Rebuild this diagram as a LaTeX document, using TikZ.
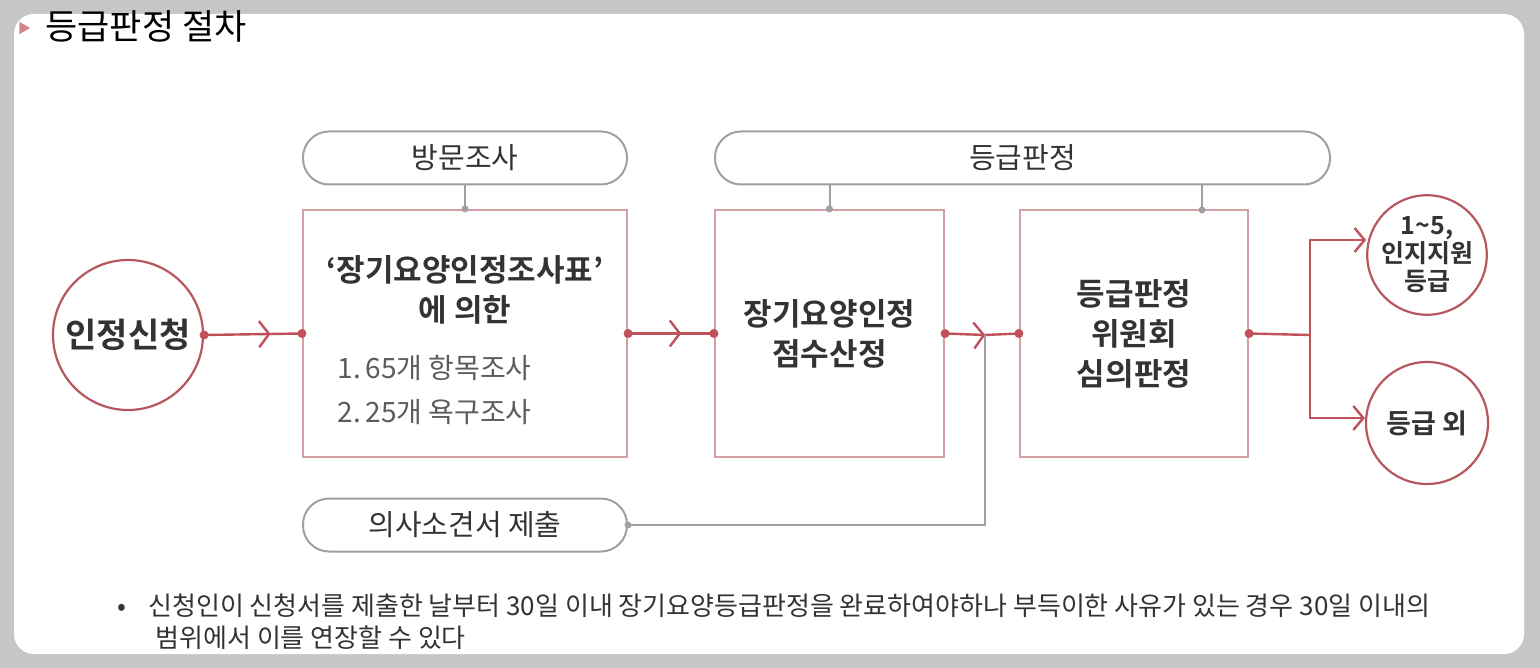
\documentclass[tikz,border=0pt]{standalone}
\usepackage{fontspec}
\setmainfont{Noto Sans CJK KR}[BoldFont={Noto Sans CJK KR Bold}]
\usetikzlibrary{arrows.meta,decorations.markings,shapes.geometric}
\definecolor{rd}{HTML}{C0505A}
\definecolor{rdl}{HTML}{D4A0A6}
\definecolor{gy}{HTML}{A0A0A0}
\definecolor{tx}{HTML}{333333}
\tikzset{
  conn/.style={rd,line width=2.4pt},
  chev/.style={postaction={decorate},decoration={markings,mark=at position #1 with {\arrow[rd,line width=2.4pt]{Straight Barb[length=10pt,width=26pt]}}}},
  boxn/.style={draw=rdl,line width=2.2pt,fill=white,minimum width=#1,minimum height=247pt,inner sep=0pt,align=center,text=tx,font=\fontsize{31}{40}\selectfont\bfseries},
  pill/.style={draw=gy,line width=2pt,rounded corners=26pt,minimum width=#1,minimum height=53pt,inner sep=0pt,text=tx,font=\fontsize{29}{32}\selectfont},
  circ/.style={circle,draw=rd!85!gray,line width=2.2pt,minimum size=#1,inner sep=0pt,align=center,text=tx},
  dot/.style={circle,fill=rd,inner sep=0pt,minimum size=9pt},
  gdot/.style={circle,fill=gy,inner sep=0pt,minimum size=7pt},
}
\begin{document}
\begin{tikzpicture}[x=1pt,y=-1pt]
\useasboundingbox (0,0) rectangle (1540,668);
\fill[gray!45] (0,0) rectangle (1540,668);
\fill[white,rounded corners=20pt] (14,14) rectangle (1524,654);
\node[fill=rd!70,regular polygon,regular polygon sides=3,shape border rotate=-90,inner sep=2.5pt] (mk) at (23,28) {};
\node[anchor=west,font=\fontsize{35}{40}\selectfont] (title) at (42,26) {등급판정 절차};

\node[circ=150pt,font=\fontsize{34}{40}\selectfont\bfseries] (c0) at (128,335) {인정신청};
\node[boxn=324pt] (b1) at (465,333.5) {};
\node[align=center,text=tx,font=\fontsize{31}{40}\selectfont\bfseries] (b1t) at (465,290) {‘장기요양인정조사표’\\에 의한};
\node[anchor=west,text=tx!80,font=\fontsize{28}{44}\selectfont,align=left] (b1s) at (334,390) {1.\,65개 항목조사\\2.\,25개 욕구조사};
\node[boxn=229pt] (b2) at (829.5,333.5) {장기요양인정\\점수산정};
\node[boxn=228pt] (b3) at (1134,333.5) {등급판정\\위원회\\심의판정};
\node[pill=324pt] (p1) at (465,158) {방문조사};
\node[pill=615pt] (p2) at (1022.5,158) {등급판정};
\node[pill=324pt] (p3) at (465,525) {의사소견서 제출};
\node[circ=116pt,font=\fontsize{25}{28}\selectfont\bfseries] (o1) at (1427,255) {1\textasciitilde5,\\인지지원\\등급};
\node[circ=122pt,font=\fontsize{27}{30}\selectfont\bfseries] (o2) at (1427,423) {등급 외};

% top connectors
\draw[gy,line width=2pt] (p1.south) -- (b1.north) node[gdot]{};
\draw[gy,line width=2pt] (p2.south -| b2.north) -- (b2.north) node[gdot]{};
\draw[gy,line width=2pt] (p2.south -| 1202,0) -- (1202,210) node[gdot]{};

% main flow
\draw[conn,chev=0.68] (c0.east) node[dot]{} -- (b1.west) node[dot]{};
\draw[conn,chev=0.62] (b1.east) node[dot]{} -- (b2.west) node[dot]{};
\coordinate (j) at (985,335);
\draw[conn] (b2.east) node[dot]{} -- (j);
\draw[conn,chev=0.01] (j) -- (b3.west) node[dot]{};
\draw[gy,line width=2pt] (p3.east) node[gdot]{} -| (j);
\draw[conn] (b3.east) node[dot]{} -- (1310,335);
\draw[conn,-{Straight Barb[length=10pt,width=24pt]}] (1310,335) |- (o1.west |- 0,240);
\draw[conn,-{Straight Barb[length=10pt,width=24pt]}] (1310,335) |- (o2.west |- 0,418);

\node[anchor=west,font=\fontsize{26}{32}\selectfont,text=tx,align=left] (note) at (114,622) {•\hspace{22pt}신청인이 신청서를 제출한 날부터 30일 이내 장기요양등급판정을 완료하여야하나 부득이한 사유가 있는 경우 30일 이내의\\\hspace{38pt}범위에서 이를 연장할 수 있다};
\end{tikzpicture}
\end{document}
